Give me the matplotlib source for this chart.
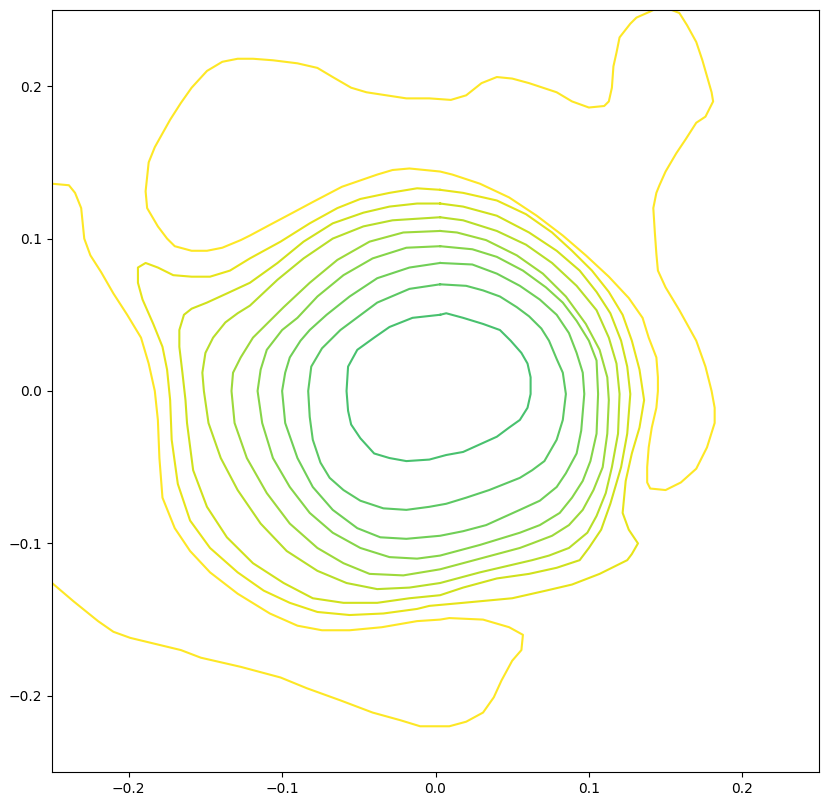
import matplotlib
matplotlib.use("Agg")
import matplotlib.pyplot as plt
import numpy as np

# contour lines, outermost (level 1) to innermost (level 9)

# level 1, upper piece (leaves and re-enters through the top edge)
l1a_x = [0.142, 0.140, 0.131, 0.127, 0.120, 0.118, 0.116, 0.115, 0.113, 0.110, 0.100, 0.089,
         0.079, 0.061, 0.050, 0.040, 0.030, 0.020, 0.010, -0.004, -0.019, -0.032, -0.045, -0.055,
         -0.067, -0.077, -0.090, -0.106, -0.119, -0.129, -0.139, -0.149, -0.159, -0.166, -0.173,
         -0.183, -0.187, -0.189, -0.188, -0.181, -0.175, -0.170, -0.159, -0.149, -0.139, -0.127,
         -0.121, -0.108, -0.093, -0.080, -0.061, -0.038, -0.028, -0.017, 0.003, 0.011, 0.029,
         0.048, 0.066, 0.083, 0.098, 0.113, 0.126, 0.135, 0.139, 0.144, 0.145, 0.145, 0.144,
         0.141, 0.139, 0.138, 0.138, 0.140, 0.150, 0.160, 0.170, 0.177, 0.182, 0.182, 0.180,
         0.176, 0.170, 0.159, 0.150, 0.145, 0.144, 0.143, 0.142, 0.144, 0.146, 0.150, 0.157,
         0.163, 0.170, 0.176, 0.181, 0.180, 0.178, 0.174, 0.170, 0.164, 0.159, 0.154]
l1a_y = [0.250, 0.249, 0.245, 0.241, 0.232, 0.222, 0.213, 0.199, 0.190, 0.187, 0.186, 0.190,
         0.196, 0.202, 0.205, 0.206, 0.202, 0.194, 0.191, 0.192, 0.192, 0.194, 0.196, 0.199,
         0.206, 0.212, 0.215, 0.217, 0.218, 0.218, 0.216, 0.210, 0.199, 0.189, 0.178, 0.160,
         0.150, 0.131, 0.120, 0.108, 0.100, 0.095, 0.092, 0.092, 0.094, 0.099, 0.102, 0.109,
         0.117, 0.124, 0.134, 0.142, 0.145, 0.146, 0.144, 0.142, 0.136, 0.127, 0.115, 0.102,
         0.089, 0.075, 0.061, 0.048, 0.035, 0.022, 0.009, 0.000, -0.011, -0.024, -0.037,
         -0.050, -0.060, -0.064, -0.065, -0.060, -0.051, -0.037, -0.021, -0.011, 0.000, 0.016,
         0.033, 0.053, 0.068, 0.079, 0.090, 0.104, 0.120, 0.130, 0.135, 0.144, 0.156, 0.165,
         0.176, 0.180, 0.190, 0.196, 0.203, 0.217, 0.229, 0.240, 0.248, 0.250]

# level 1, lower-left piece (left edge round to the tongue at the bottom)
l1b_x = [-0.250, -0.239, -0.235, -0.231, -0.229, -0.225, -0.218, -0.210, -0.201, -0.192,
         -0.187, -0.183, -0.181, -0.180, -0.178, -0.170, -0.160, -0.147, -0.129, -0.108,
         -0.090, -0.074, -0.056, -0.035, -0.012, 0.003, 0.009, 0.031, 0.048, 0.057, 0.056,
         0.050, 0.043, 0.038, 0.031, 0.020, 0.009, -0.004, -0.010, -0.023, -0.041, -0.062,
         -0.084, -0.101, -0.127, -0.153, -0.166, -0.199, -0.210, -0.220, -0.236, -0.250]
l1b_y = [0.136, 0.135, 0.130, 0.120, 0.100, 0.089, 0.078, 0.064, 0.050, 0.035, 0.018, 0.000,
         -0.019, -0.044, -0.070, -0.090, -0.105, -0.119, -0.133, -0.146, -0.154, -0.157,
         -0.157, -0.155, -0.151, -0.150, -0.149, -0.150, -0.155, -0.160, -0.170, -0.177,
         -0.190, -0.201, -0.211, -0.217, -0.220, -0.220, -0.220, -0.216, -0.211, -0.203,
         -0.195, -0.188, -0.181, -0.175, -0.170, -0.162, -0.158, -0.151, -0.138, -0.126]

l2_x = [0.003, 0.018, 0.040, 0.059, 0.076, 0.089, 0.102, 0.113, 0.122, 0.128, 0.133, 0.136,
        0.133, 0.128, 0.124, 0.122, 0.126, 0.132, 0.128, 0.125, 0.107, 0.089, 0.072, 0.050,
        0.018, -0.004, -0.012, -0.034, -0.056, -0.077, -0.095, -0.112, -0.129, -0.147, -0.160,
        -0.168, -0.172, -0.173, -0.175, -0.178, -0.184, -0.191, -0.194, -0.194, -0.189,
        -0.181, -0.171, -0.159, -0.147, -0.134, -0.121, -0.101, -0.082, -0.064, -0.049,
        -0.030, -0.012, 0.003]
l2_y = [0.132, 0.130, 0.125, 0.116, 0.104, 0.092, 0.079, 0.065, 0.050, 0.033, 0.014, -0.006,
        -0.024, -0.041, -0.059, -0.080, -0.091, -0.100, -0.107, -0.111, -0.120, -0.127, -0.131,
        -0.136, -0.139, -0.141, -0.143, -0.146, -0.147, -0.145, -0.139, -0.131, -0.119, -0.103,
        -0.085, -0.061, -0.032, -0.006, 0.014, 0.029, 0.044, 0.060, 0.071, 0.081, 0.084,
        0.081, 0.076, 0.075, 0.075, 0.079, 0.087, 0.098, 0.110, 0.120, 0.126, 0.130, 0.133,
        0.132]

l3_x = [0.003, 0.018, 0.040, 0.061, 0.079, 0.094, 0.105, 0.114, 0.121, 0.125, 0.127, 0.125,
        0.121, 0.114, 0.108, 0.100, 0.094, 0.079, 0.061, 0.040, 0.018, 0.003, -0.017, -0.038,
        -0.060, -0.080, -0.099, -0.119, -0.136, -0.149, -0.158, -0.162, -0.163, -0.165,
        -0.167, -0.167, -0.164, -0.159, -0.149, -0.136, -0.121, -0.103, -0.086, -0.067,
        -0.047, -0.030, -0.012, 0.003]
l3_y = [0.123, 0.121, 0.115, 0.104, 0.092, 0.079, 0.065, 0.051, 0.033, 0.016, -0.002, -0.028,
        -0.050, -0.074, -0.091, -0.103, -0.111, -0.116, -0.120, -0.123, -0.129, -0.134, -0.136,
        -0.139, -0.139, -0.136, -0.126, -0.113, -0.096, -0.076, -0.052, -0.021, -0.006, 0.012,
        0.029, 0.040, 0.050, 0.054, 0.058, 0.064, 0.071, 0.084, 0.098, 0.110, 0.117, 0.121,
        0.123, 0.123]

l4_x = [0.003, 0.018, 0.040, 0.059, 0.076, 0.092, 0.105, 0.113, 0.118, 0.120, 0.119, 0.115,
        0.111, 0.105, 0.099, 0.087, 0.074, 0.063, 0.029, 0.003, -0.017, -0.038, -0.058, -0.077,
        -0.097, -0.114, -0.129, -0.140, -0.148, -0.151, -0.152, -0.150, -0.145, -0.137,
        -0.129, -0.121, -0.103, -0.086, -0.067, -0.047, -0.028, 0.003]
l4_y = [0.114, 0.112, 0.105, 0.096, 0.084, 0.069, 0.053, 0.035, 0.018, -0.002, -0.028, -0.050,
        -0.067, -0.082, -0.093, -0.103, -0.108, -0.111, -0.119, -0.126, -0.129, -0.130, -0.126,
        -0.118, -0.105, -0.087, -0.065, -0.044, -0.021, 0.000, 0.012, 0.025, 0.035, 0.045,
        0.051, 0.056, 0.073, 0.087, 0.100, 0.108, 0.112, 0.114]

l5_x = [0.003, 0.014, 0.033, 0.053, 0.070, 0.085, 0.098, 0.107, 0.112, 0.113, 0.112, 0.109,
        0.103, 0.096, 0.087, 0.076, 0.063, 0.055, 0.029, 0.003, -0.021, -0.043, -0.060, -0.077,
        -0.095, -0.110, -0.123, -0.131, -0.133, -0.132, -0.127, -0.119, -0.114, -0.099,
        -0.082, -0.064, -0.043, -0.021, 0.003]
l5_y = [0.105, 0.104, 0.099, 0.089, 0.077, 0.062, 0.044, 0.027, 0.009, -0.006, -0.028, -0.050,
        -0.065, -0.078, -0.088, -0.095, -0.100, -0.103, -0.110, -0.117, -0.121, -0.120, -0.113,
        -0.103, -0.087, -0.067, -0.044, -0.021, 0.000, 0.012, 0.022, 0.035, 0.040, 0.055,
        0.071, 0.086, 0.098, 0.104, 0.105]

l6_x = [0.003, 0.024, 0.040, 0.057, 0.072, 0.083, 0.092, 0.100, 0.105, 0.106, 0.105, 0.101,
        0.096, 0.089, 0.081, 0.068, 0.055, 0.029, 0.003, -0.012, -0.030, -0.049, -0.067,
        -0.082, -0.095, -0.106, -0.113, -0.116, -0.114, -0.110, -0.100, -0.090, -0.077,
        -0.060, -0.041, -0.019, 0.003]
l6_y = [0.095, 0.093, 0.088, 0.079, 0.068, 0.058, 0.046, 0.033, 0.020, -0.002, -0.028, -0.046,
        -0.059, -0.070, -0.080, -0.088, -0.093, -0.101, -0.108, -0.110, -0.109, -0.103, -0.093,
        -0.080, -0.063, -0.044, -0.021, 0.000, 0.014, 0.027, 0.040, 0.048, 0.062, 0.076,
        0.087, 0.094, 0.095]

l7_x = [0.003, 0.024, 0.040, 0.055, 0.068, 0.079, 0.087, 0.092, 0.096, 0.097, 0.095, 0.092,
        0.085, 0.079, 0.068, 0.055, 0.033, 0.018, 0.003, -0.019, -0.036, -0.051, -0.067,
        -0.080, -0.090, -0.098, -0.100, -0.098, -0.095, -0.088, -0.082, -0.071, -0.056,
        -0.038, -0.017, 0.003]
l7_y = [0.084, 0.083, 0.077, 0.069, 0.060, 0.050, 0.038, 0.025, 0.012, -0.002, -0.026, -0.041,
        -0.054, -0.063, -0.072, -0.078, -0.088, -0.092, -0.095, -0.097, -0.096, -0.090, -0.078,
        -0.063, -0.044, -0.021, 0.000, 0.012, 0.022, 0.033, 0.040, 0.050, 0.062, 0.074,
        0.081, 0.084]

l8_x = [0.003, 0.020, 0.031, 0.042, 0.053, 0.061, 0.069, 0.074, 0.079, 0.083, 0.085, 0.083,
        0.079, 0.071, 0.063, 0.055, 0.035, 0.020, 0.007, -0.004, -0.019, -0.034, -0.049,
        -0.060, -0.069, -0.075, -0.080, -0.082, -0.083, -0.081, -0.074, -0.062, -0.054,
        -0.038, -0.017, 0.003]
l8_y = [0.070, 0.069, 0.066, 0.062, 0.055, 0.049, 0.041, 0.033, 0.021, 0.012, -0.002, -0.019,
        -0.032, -0.046, -0.052, -0.057, -0.065, -0.070, -0.074, -0.076, -0.078, -0.077, -0.072,
        -0.065, -0.057, -0.047, -0.032, -0.017, 0.000, 0.016, 0.028, 0.040, 0.046, 0.058,
        0.067, 0.070]

l9_x = [0.003, 0.007, 0.018, 0.031, 0.042, 0.049, 0.056, 0.060, 0.062, 0.062, 0.060, 0.055,
        0.048, 0.040, 0.029, 0.018, 0.007, -0.004, -0.019, -0.030, -0.040, -0.049, -0.055,
        -0.057, -0.058, -0.057, -0.051, -0.040, -0.030, -0.015, 0.003]
l9_y = [0.050, 0.051, 0.048, 0.044, 0.040, 0.033, 0.025, 0.018, 0.009, -0.002, -0.011, -0.019,
        -0.024, -0.030, -0.035, -0.040, -0.042, -0.045, -0.046, -0.044, -0.041, -0.031, -0.022,
        -0.013, 0.000, 0.016, 0.027, 0.035, 0.042, 0.048, 0.050]

levels = [
    [(l1a_x, l1a_y), (l1b_x, l1b_y)],
    [(l2_x, l2_y)],
    [(l3_x, l3_y)],
    [(l4_x, l4_y)],
    [(l5_x, l5_y)],
    [(l6_x, l6_y)],
    [(l7_x, l7_y)],
    [(l8_x, l8_y)],
    [(l9_x, l9_y)],
]

colors = plt.cm.viridis(np.linspace(1.0, 0.71, len(levels)))

fig = plt.figure(figsize=(8.3, 8.05), dpi=100)
ax = fig.add_axes([0.0627, 0.041, 0.924, 0.9466])

for pieces, c in zip(levels, colors):
    for xs, ys in pieces:
        ax.plot(xs, ys, color=c, linewidth=1.5)

ax.set_xlim(-0.25, 0.25)
ax.set_ylim(-0.25, 0.25)
ax.set_xticks([-0.2, -0.1, 0.0, 0.1, 0.2])
ax.set_yticks([-0.2, -0.1, 0.0, 0.1, 0.2])

fig.savefig("out.png", dpi=100)
